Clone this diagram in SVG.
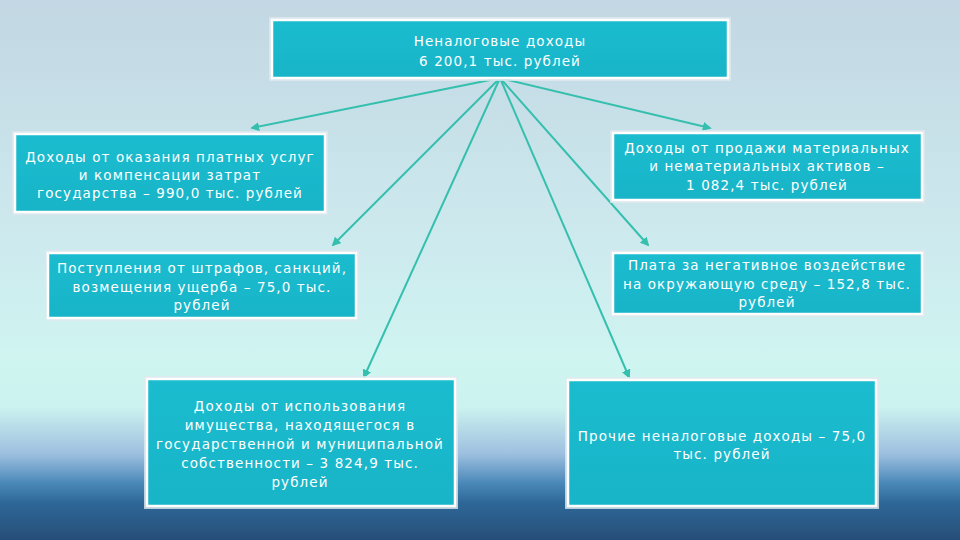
<svg xmlns="http://www.w3.org/2000/svg" width="960" height="540" viewBox="0 0 960 540">
<defs>
<linearGradient id="bg" x1="0" y1="0" x2="0" y2="1">
<stop offset="0" stop-color="#c2d7e3"/>
<stop offset="0.45" stop-color="#cdeaee"/>
<stop offset="0.68" stop-color="#cff5f1"/>
<stop offset="0.755" stop-color="#cbf2ef"/>
<stop offset="0.8" stop-color="#b3d7e6"/>
<stop offset="0.84" stop-color="#9ec0e0"/>
<stop offset="0.895" stop-color="#4a88b8"/>
<stop offset="0.93" stop-color="#2e6898"/>
<stop offset="1" stop-color="#264e78"/>
</linearGradient>
<linearGradient id="box" x1="0" y1="0" x2="0" y2="1">
<stop offset="0" stop-color="#1bbccf"/>
<stop offset="1" stop-color="#18b4c8"/>
</linearGradient>
<marker id="ah" viewBox="0 0 10 10" refX="8" refY="5" markerWidth="4.5" markerHeight="4.5" orient="auto" markerUnits="strokeWidth">
<path d="M0,0 L10,5 L0,10 z" fill="#35bfae"/>
</marker>
</defs>
<style>
.b{fill:url(#box);stroke:#ffffff;stroke-width:2.5}
.h{fill:none;stroke:#dfe8ee;stroke-width:2;opacity:0.8}
.t{font-family:"DejaVu Sans",sans-serif;font-size:13.5px;fill:#ffffff;text-anchor:middle;letter-spacing:1.1px}
.c{stroke:#35bfae;stroke-width:2;fill:none;marker-end:url(#ah)}
</style>
<rect x="0" y="0" width="960" height="540" fill="url(#bg)"/>
<g id="connectors">
<line class="c" x1="500" y1="78" x2="252" y2="128"/>
<line class="c" x1="500" y1="78" x2="710" y2="128"/>
<line class="c" x1="500" y1="78" x2="333" y2="245"/>
<line class="c" x1="500" y1="78" x2="648" y2="245"/>
<line class="c" x1="500" y1="78" x2="364" y2="377"/>
<line class="c" x1="500" y1="78" x2="629" y2="377"/>
</g>
<g id="n0">
<rect class="h" x="270" y="18" width="460" height="62"/>
<rect class="b" x="272" y="20" width="456" height="58"/>
<text class="t" x="500" y="46">Неналоговые доходы</text>
<text class="t" x="500" y="66">6 200,1 тыс. рублей</text>
</g>
<g id="n1">
<rect class="h" x="13" y="132" width="314" height="82"/>
<rect class="b" x="15" y="134" width="310" height="78"/>
<text class="t" x="170" y="162">Доходы от оказания платных услуг</text>
<text class="t" x="170" y="180">и компенсации затрат</text>
<text class="t" x="170" y="198">государства – 990,0 тыс. рублей</text>
</g>
<g id="n2">
<rect class="h" x="611" y="131" width="313" height="71"/>
<rect class="b" x="613" y="133" width="309" height="67"/>
<text class="t" x="767" y="153">Доходы от продажи материальных</text>
<text class="t" x="767" y="171">и нематериальных активов –</text>
<text class="t" x="767" y="190">1 082,4 тыс. рублей</text>
</g>
<g id="n3">
<rect class="h" x="46" y="251" width="312" height="69"/>
<rect class="b" x="48" y="253" width="308" height="65"/>
<text class="t" x="202" y="273">Поступления от штрафов, санкций,</text>
<text class="t" x="202" y="292">возмещения ущерба – 75,0 тыс.</text>
<text class="t" x="202" y="310">рублей</text>
</g>
<g id="n4">
<rect class="h" x="611" y="251" width="313" height="65"/>
<rect class="b" x="613" y="253" width="309" height="61"/>
<text class="t" x="767" y="270">Плата за негативное воздействие</text>
<text class="t" x="767" y="289">на окружающую среду – 152,8 тыс.</text>
<text class="t" x="767" y="307">рублей</text>
</g>
<g id="n5">
<rect class="h" x="145" y="377" width="312" height="131"/>
<rect class="b" x="147" y="379" width="308" height="127"/>
<text class="t" x="300" y="411">Доходы от использования</text>
<text class="t" x="300" y="430">имущества, находящегося в</text>
<text class="t" x="300" y="449">государственной и муниципальной</text>
<text class="t" x="300" y="468">собственности – 3 824,9 тыс.</text>
<text class="t" x="300" y="487">рублей</text>
</g>
<g id="n6">
<rect class="h" x="566" y="378" width="312" height="130"/>
<rect class="b" x="568" y="380" width="308" height="126"/>
<text class="t" x="722" y="441">Прочие неналоговые доходы – 75,0</text>
<text class="t" x="722" y="459">тыс. рублей</text>
</g>
</svg>
